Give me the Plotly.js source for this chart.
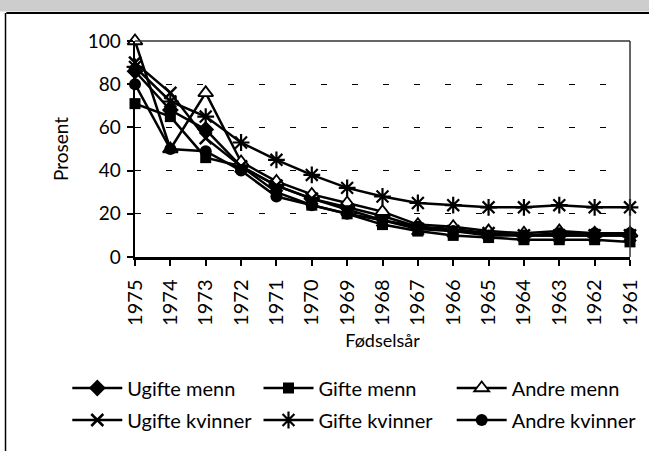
<!DOCTYPE html>
<html>
<head>
<meta charset="utf-8">
<script src="https://cdn.plot.ly/plotly-3.0.1.min.js"></script>
<style>html,body{margin:0;padding:0;background:#fff;}#chart{width:649px;height:451px;}</style>
</head>
<body>
<div id="chart"></div>
<script>
const years = ["1975","1974","1973","1972","1971","1970","1969","1968","1967","1966","1965","1964","1963","1962","1961"];
const ugifteMenn    = [86, 68, 59, 42, 33, 27, 23, 19, 14, 13, 11, 10, 10, 10, 10];
const gifteMenn     = [71, 65, 46, 42, 30, 24, 20, 15, 12, 10,  9,  8,  8,  8,  7];
const andreMenn     = [100, 50, 76, 44, 35, 29, 25, 21, 15, 14, 12, 11, 12, 11, 11];
const ugifteKvinner = [90, 76, 55, 42, 33, 27, 22, 17, 13, 12, 11, 10, 10, 10, 10];
const gifteKvinner  = [88, 72, 65, 53, 45, 38, 32, 28, 25, 24, 23, 23, 24, 23, 23];
const andreKvinner  = [80, 50, 49, 40, 28, 24, 20, 17, 14, 12, 10, 10, 11, 11, 11];
const seriesNames = ["Ugifte menn","Gifte menn","Andre menn","Ugifte kvinner","Gifte kvinner","Andre kvinner"];
const yTicks = [0, 20, 40, 60, 80, 100];

const FONT = "Lato, 'Open Sans', sans-serif";
function tr(name, y, marker, legend) {
  return {x: years, y: y, name: name, type: 'scatter', mode: 'lines+markers',
    line: {color: '#000', width: 2.5}, marker: marker, cliponaxis: false, legend: legend};
}
const data = [
  tr(seriesNames[0], ugifteMenn, {symbol: 'diamond', size: 13, color: '#000'}, 'legend'),
  tr(seriesNames[1], gifteMenn, {symbol: 'square', size: 11, color: '#000'}, 'legend2'),
  tr(seriesNames[2], andreMenn, {symbol: 'triangle-up', size: 13, color: '#fff', line: {color: '#000', width: 1.8}}, 'legend3'),
  tr(seriesNames[3], ugifteKvinner, {symbol: 'x-thin-open', size: 12, color: '#000', line: {color: '#000', width: 2.5}}, 'legend4'),
  tr(seriesNames[4], gifteKvinner, {symbol: 'asterisk-open', size: 14, color: '#000', line: {color: '#000', width: 2.2}}, 'legend5'),
  tr(seriesNames[5], andreKvinner, {symbol: 'circle', size: 12, color: '#000'}, 'legend6')
];
const colX = [-0.1368, 0.2495, 0.6398];
const rowY = [-0.6065, -0.7546];
function leg(col, row) {
  return {orientation: 'h', xanchor: 'left', yanchor: 'middle', x: colX[col], y: rowY[row],
    font: {family: FONT, size: 20, color: '#000'}, itemwidth: 50,
    bgcolor: 'rgba(0,0,0,0)', borderwidth: 0};
}
const layout = {
  width: 649, height: 451,
  margin: {l: 135, r: 19, t: 41, b: 194, autoexpand: false},
  paper_bgcolor: '#fff', plot_bgcolor: '#fff',
  font: {family: FONT, color: '#000'},
  showlegend: true,
  legend: leg(0, 0), legend2: leg(1, 0), legend3: leg(2, 0),
  legend4: leg(0, 1), legend5: leg(1, 1), legend6: leg(2, 1),
  xaxis: {type: 'category', range: [0, 14], showline: true, linecolor: '#000', linewidth: 2.5,
    ticks: 'outside', ticklen: 6, tickwidth: 2, tickcolor: '#000', showgrid: false, zeroline: false,
    tickangle: -90, tickfont: {family: FONT, size: 20, color: '#000'}, ticklabelstandoff: 6,
    title: {text: 'Fødselsår', font: {family: FONT, size: 18, color: '#000'}, standoff: 10}, automargin: false},
  yaxis: {range: [0, 100], tickvals: yTicks, showline: true, linecolor: '#000', linewidth: 2.5,
    ticks: 'outside', ticklen: 6, tickwidth: 2, tickcolor: '#000', zeroline: false,
    showgrid: true, gridcolor: '#000', gridwidth: 1.3, griddash: '6px,25px',
    tickfont: {family: FONT, size: 19, color: '#000'}, ticklabelstandoff: 2,
    title: {text: 'Prosent', font: {family: FONT, size: 19, color: '#000'}, standoff: 14}, automargin: false},
  xaxis2: {overlaying: 'x', anchor: 'y', range: [0, 14], tickmode: 'linear', tick0: 0, dtick: 1,
    ticks: 'inside', ticklen: 7, tickwidth: 2, tickcolor: '#000', showticklabels: false,
    showgrid: false, zeroline: false, showline: false},
  yaxis2: {overlaying: 'y', anchor: 'x', range: [0, 100], tickvals: yTicks,
    ticks: 'inside', ticklen: 5, tickwidth: 2, tickcolor: '#000', showticklabels: false,
    showgrid: false, zeroline: false, showline: false},
  shapes: [
    {type: 'rect', xref: 'paper', yref: 'paper', x0: -0.3, x1: 1.1, y0: 1.137, y1: 1.4, fillcolor: '#cdcdcd', line: {width: 0}, layer: 'below'},
    {type: 'line', xref: 'paper', yref: 'paper', x0: 0, x1: 1, y0: 1, y1: 1, line: {color: '#333', width: 1.5}},
    {type: 'line', xref: 'paper', yref: 'paper', x0: 1, x1: 1, y0: 0, y1: 1, line: {color: '#333', width: 1.5}},
    {type: 'line', xref: 'paper', yref: 'paper', x0: -0.26, x1: 1.1, y0: 1.13, y1: 1.13, line: {color: '#000', width: 2}},
    {type: 'line', xref: 'paper', yref: 'paper', x0: -0.2616, x1: -0.2616, y0: 1.13, y1: -0.9, line: {color: '#000', width: 1.5}}
  ]
};
Plotly.newPlot('chart', data, layout, {displayModeBar: false, staticPlot: true});
</script>
</body>
</html>
